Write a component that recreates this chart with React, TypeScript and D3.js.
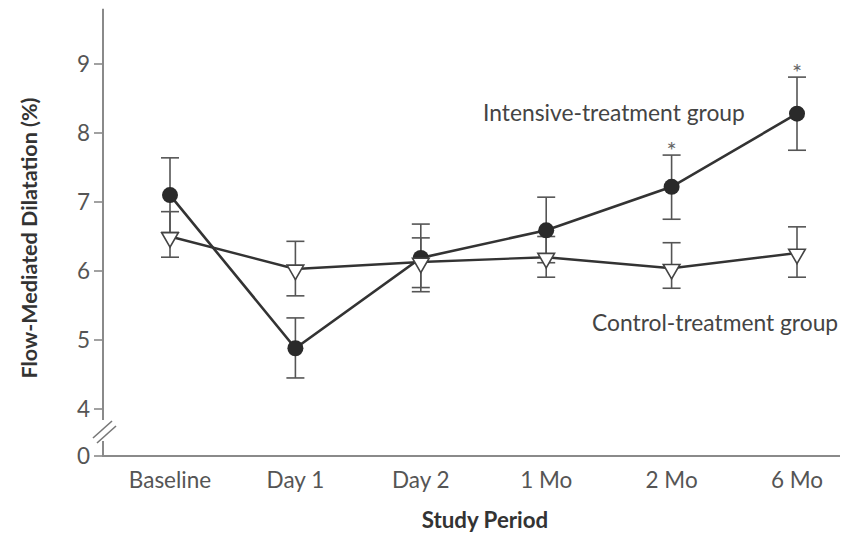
import React from "react";
import * as d3 from "d3";

const categories = ["Baseline", "Day 1", "Day 2", "1 Mo", "2 Mo", "6 Mo"];
const intensive = [7.1, 4.88, 6.19, 6.59, 7.22, 8.28];
const intensiveUpper = [7.64, 5.32, 6.68, 7.07, 7.68, 8.81];
const intensiveLower = [6.56, 4.45, 5.7, 6.12, 6.75, 7.75];
const control = [6.5, 6.03, 6.13, 6.2, 6.04, 6.26];
const controlUpper = [6.86, 6.43, 6.48, 6.5, 6.41, 6.64];
const controlLower = [6.2, 5.64, 5.76, 5.91, 5.75, 5.91];
const significant = [false, false, false, false, true, true];
const yTicks = [0, 4, 5, 6, 7, 8, 9];

const FONT = "Lato, 'Open Sans', sans-serif";

export default function App() {
  const x = d3.scalePoint<string>().domain(categories).range([170, 797]);
  const y = d3.scaleLinear().domain([0, 4, 9.8]).range([456, 409, 8.8]);
  const line = d3
    .line<number>()
    .x((_, i) => x(categories[i]) as number)
    .y((d) => y(d));
  const tri = d3.symbol().type(d3.symbolTriangle).size(120)();
  const capW = 9;

  const errBars = (vals: number[], up: number[], lo: number[], key: string) =>
    vals.map((_, i) => {
      const cx = x(categories[i]) as number;
      return (
        <g key={key + i} stroke="#555" strokeWidth={1.6}>
          <line x1={cx} x2={cx} y1={y(up[i])} y2={y(lo[i])} />
          <line x1={cx - capW} x2={cx + capW} y1={y(up[i])} y2={y(up[i])} />
          <line x1={cx - capW} x2={cx + capW} y1={y(lo[i])} y2={y(lo[i])} />
        </g>
      );
    });

  return (
    <svg
      width={850}
      height={535}
      style={{ position: "absolute", left: 0, top: 0, background: "#fff" }}
      fontFamily={FONT}
    >
      {/* y axis */}
      <line x1={103} x2={103} y1={y(9.8)} y2={420} stroke="#8a8a8a" strokeWidth={2} />
      <line x1={103} x2={103} y1={441} y2={y(0)} stroke="#8a8a8a" strokeWidth={2} />
      <line x1={93} x2={112} y1={438} y2={421} stroke="#777" strokeWidth={1.6} />
      <line x1={97} x2={116} y1={443} y2={426} stroke="#777" strokeWidth={1.6} />
      {/* x axis */}
      <line x1={102} x2={840} y1={y(0)} y2={y(0)} stroke="#8a8a8a" strokeWidth={2} />
      {yTicks.map((t) => (
        <g key={"yt" + t}>
          <line x1={94} x2={103} y1={y(t)} y2={y(t)} stroke="#8a8a8a" strokeWidth={1.6} />
          <text
            x={90}
            y={y(t)}
            dy="0.36em"
            textAnchor="end"
            fontSize={22.5}
            fill="#555"
          >
            {t}
          </text>
        </g>
      ))}
      {categories.map((c) => (
        <text
          key={"xt" + c}
          x={x(c) as number}
          y={488}
          textAnchor="middle"
          fontSize={22.5}
          fill="#555"
        >
          {c}
        </text>
      ))}
      <text
        x={485}
        y={528}
        textAnchor="middle"
        fontSize={22.3}
        fontWeight="bold"
        fill="#333"
      >
        Study Period
      </text>
      <text
        transform={`translate(37,238) rotate(-90)`}
        textAnchor="middle"
        fontSize={21.5}
        fontWeight="bold"
        fill="#333"
      >
        Flow-Mediated Dilatation (%)
      </text>

      {errBars(intensive, intensiveUpper, intensiveLower, "ie")}
      {errBars(control, controlUpper, controlLower, "ce")}

      <path d={line(intensive) || ""} fill="none" stroke="#333" strokeWidth={2.6} />
      <path d={line(control) || ""} fill="none" stroke="#333" strokeWidth={2.4} />

      {intensive.map((v, i) => (
        <circle
          key={"id" + i}
          cx={x(categories[i]) as number}
          cy={y(v)}
          r={8}
          fill="#2a2a2a"
        />
      ))}
      {control.map((v, i) => (
        <path
          key={"cd" + i}
          d={tri || ""}
          transform={`translate(${x(categories[i])},${y(v) + 1}) rotate(180)`}
          fill="#fff"
          stroke="#444"
          strokeWidth={1.6}
        />
      ))}
      {significant.map((s, i) =>
        s ? (
          <text
            key={"st" + i}
            x={x(categories[i]) as number}
            y={y(intensiveUpper[i]) + 4}
            textAnchor="middle"
            fontSize={24}
            fill="#666"
          >
            *
          </text>
        ) : null
      )}

      <text x={483} y={121} fontSize={22.8} fill="#444">
        Intensive-treatment group
      </text>
      <text x={592} y={331} fontSize={22.8} fill="#444">
        Control-treatment group
      </text>
    </svg>
  );
}
